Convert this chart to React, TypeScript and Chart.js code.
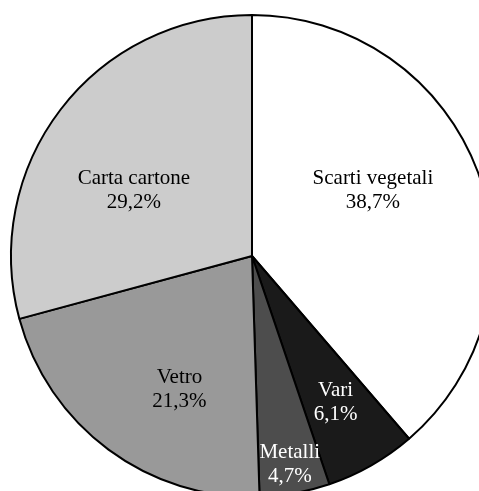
import React, { useEffect, useRef } from "react";
import { Chart, registerables } from "chart.js";

Chart.register(...registerables);

const categories = ["Scarti vegetali", "Vari", "Metalli", "Vetro", "Carta cartone"];
const values = [38.7, 6.1, 4.7, 21.3, 29.2];
const valueLabels = ["38,7%", "6,1%", "4,7%", "21,3%", "29,2%"];
const sliceColors = ["#ffffff", "#1a1a1a", "#4d4d4d", "#999999", "#cccccc"];
const textColors = ["#000000", "#ffffff", "#ffffff", "#000000", "#000000"];
// label placement: fraction of radius, angular shift in degrees
const labelRadius = [0.57, 0.7, 0.88, 0.63, 0.56];
const labelShift = [-8, 0, 0, -8, -8.5];

const labelPlugin = {
  id: "sliceLabels",
  afterDatasetsDraw(chart: any) {
    const ctx = chart.ctx;
    const meta = chart.getDatasetMeta(0);
    ctx.save();
    ctx.font = '21px "Liberation Serif", "Times New Roman", serif';
    ctx.textAlign = "center";
    ctx.textBaseline = "middle";
    meta.data.forEach((arc: any, i: number) => {
      const { x, y, startAngle, endAngle, outerRadius } = arc.getProps(
        ["x", "y", "startAngle", "endAngle", "outerRadius"],
        true
      );
      const mid = (startAngle + endAngle) / 2 + (labelShift[i] * Math.PI) / 180;
      const r = outerRadius * labelRadius[i];
      const lx = x + Math.cos(mid) * r;
      const ly = y + Math.sin(mid) * r;
      ctx.fillStyle = textColors[i];
      ctx.fillText(categories[i], lx, ly - 12);
      ctx.fillText(valueLabels[i], lx, ly + 12);
    });
    ctx.restore();
  },
};

export default function App() {
  const ref = useRef<HTMLCanvasElement>(null);
  useEffect(() => {
    if (!ref.current) return;
    const chart = new Chart(ref.current, {
      type: "pie",
      data: {
        labels: categories,
        datasets: [
          {
            data: values,
            backgroundColor: sliceColors,
            borderColor: "#000000",
            borderWidth: 2,
            hoverOffset: 0,
          },
        ],
      },
      options: {
        responsive: false,
        animation: false,
        radius: 241,
        layout: { padding: 0 },
        plugins: {
          legend: { display: false },
          tooltip: { enabled: false },
        },
      },
      plugins: [labelPlugin],
    });
    return () => chart.destroy();
  }, []);
  return (
    <div
      style={{
        position: "fixed",
        left: 0,
        top: 0,
        width: 479,
        height: 491,
        overflow: "hidden",
        background: "#ffffff",
      }}
    >
      <canvas
        ref={ref}
        width={500}
        height={500}
        style={{ position: "absolute", left: 2, top: 6, width: 500, height: 500 }}
      />
    </div>
  );
}
